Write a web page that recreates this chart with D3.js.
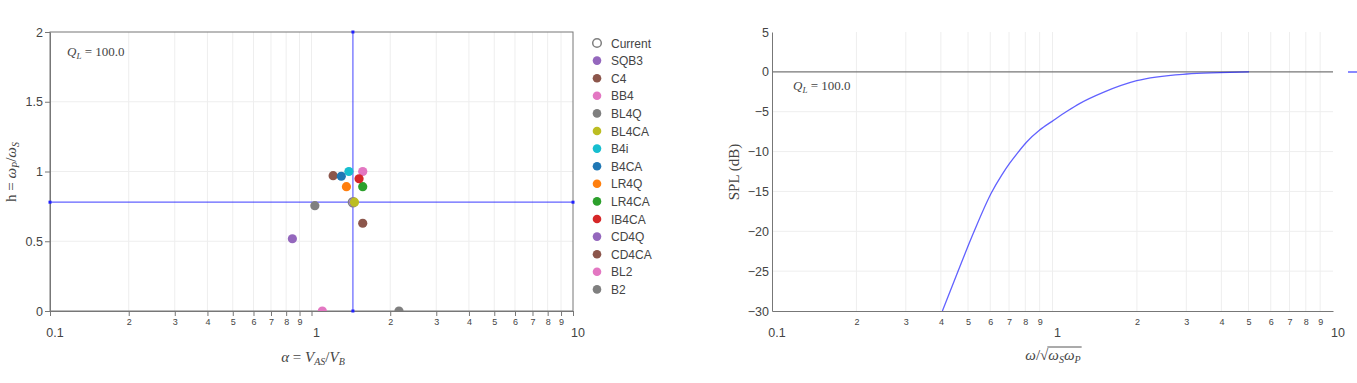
<!DOCTYPE html>
<html>
<head>
<meta charset="utf-8">
<script src="https://cdn.jsdelivr.net/npm/d3@7"></script>
<style>
  body { margin: 0; background: #fff; }
  text { font-family: "Liberation Sans", Arial, sans-serif; }
  .math { font-family: "Liberation Serif", "DejaVu Serif", serif; fill: #444; }
  .tick text { fill: #444; }
</style>
</head>
<body>
<div id="chart"></div>
<script>
// alignments (alpha = Vas/Vb, h = wP/wS)
var alignNames = ["SQB3", "C4", "BB4", "BL4Q", "BL4CA", "B4i", "B4CA", "LR4Q", "LR4CA", "IB4CA", "CD4Q", "CD4CA", "BL2", "B2"];
var alignAlpha = [1.45, 1.21, 1.57, 1.03, 1.46, 1.39, 1.30, 1.36, 1.57, 1.52, 0.845, 1.57, 1.10, 2.16];
var alignH     = [0.78, 0.97, 1.00, 0.755, 0.78, 1.00, 0.966, 0.891, 0.891, 0.948, 0.518, 0.629, 0, 0];

var currentAlpha = 1.44;
var currentH = 0.78;
var qlText = "100.0";

// response of the current alignment
var freqRatio = [0.405, 0.456, 0.522, 0.607, 0.660, 0.705, 0.750, 0.809, 0.900, 1.007, 1.126, 1.253, 1.517, 1.996, 3.01, 3.955, 5.02];
var splDb     = [-30, -25.4, -20.25, -15.1, -12.92, -11.43, -10.19, -8.8, -7.3, -6.1, -4.95, -3.95, -2.57, -1.11, -0.27, -0.1, 0];

// ticks
var majorTicks = [0.1, 1, 10];
var minorDigits = [2, 3, 4, 5, 6, 7, 8, 9];
var hTicks = [0, 0.5, 1, 1.5, 2];
var splTicks = [-30, -25, -20, -15, -10, -5, 0, 5];

var logTicks = [];
majorTicks.forEach(function(m, i) {
  logTicks.push(m);
  if (i < majorTicks.length - 1) minorDigits.forEach(function(d) { logTicks.push(m * d); });
});

var svgWidth = 1357, svgHeight = 383;
var lineBlue = "rgba(0,0,255,0.62)";
var axisGray = "#777";
var gridGray = "#eee";

function minorLabel(d) {
  if (majorTicks.indexOf(d) >= 0) return "";
  return String(Math.round(d / Math.pow(10, Math.floor(Math.log10(d) + 1e-9))));
}

var svg = d3.select("#chart").append("svg")
  .attr("width", svgWidth)
  .attr("height", svgHeight);

// ---------- left chart ----------
var xA = d3.scaleLog().domain([0.1, 10]).range([50, 573]);
var yH = d3.scaleLinear().domain([0, 2]).range([311, 32]);

var left = svg.append("g");

left.append("defs").append("clipPath").attr("id", "clipL")
  .append("rect").attr("x", 50).attr("y", 32).attr("width", 523).attr("height", 279);

// grid
left.selectAll(".vgrid").data(logTicks.slice(1, -1)).enter().append("line")
  .attr("x1", d => xA(d)).attr("x2", d => xA(d))
  .attr("y1", yH(0)).attr("y2", yH(2))
  .attr("stroke", gridGray);
left.selectAll(".hgrid").data(hTicks.slice(1, -1)).enter().append("line")
  .attr("x1", xA(0.1)).attr("x2", xA(10))
  .attr("y1", d => yH(d)).attr("y2", d => yH(d))
  .attr("stroke", gridGray);

// box
left.append("rect")
  .attr("x", xA(0.1)).attr("y", yH(2))
  .attr("width", xA(10) - xA(0.1)).attr("height", yH(0) - yH(2))
  .attr("fill", "none").attr("stroke", axisGray);

// axes
var xAxisL = left.append("g")
  .attr("transform", `translate(0, ${yH(0)})`)
  .call(d3.axisBottom(xA).tickValues(logTicks).tickSize(5).tickSizeOuter(0).tickPadding(3).tickFormat(minorLabel));
xAxisL.selectAll("text").attr("font-size", 9).attr("font-family", "Liberation Sans, Arial, sans-serif");
xAxisL.selectAll("line").attr("stroke", axisGray);
xAxisL.select(".domain").attr("stroke", axisGray);

left.selectAll(".majorL").data(majorTicks).enter().append("text")
  .attr("x", d => xA(d) + 5).attr("y", 337)
  .attr("text-anchor", "middle").attr("font-size", 12.5).attr("fill", "#444")
  .text(d => String(d));

var yAxisL = left.append("g")
  .attr("transform", `translate(${xA(0.1)}, 0)`)
  .call(d3.axisLeft(yH).tickValues(hTicks).tickSize(5).tickSizeOuter(0).tickPadding(2).tickFormat(d => String(d)));
yAxisL.selectAll("text").attr("font-size", 12.5).attr("font-family", "Liberation Sans, Arial, sans-serif");
yAxisL.selectAll("line").attr("stroke", axisGray);
yAxisL.select(".domain").attr("stroke", axisGray);

// crosshair through current alignment
var cross = left.append("g");
cross.append("line")
  .attr("x1", xA(0.1)).attr("x2", xA(10)).attr("y1", yH(currentH)).attr("y2", yH(currentH))
  .attr("stroke", lineBlue).attr("stroke-width", 1.2);
cross.append("line")
  .attr("x1", xA(currentAlpha)).attr("x2", xA(currentAlpha)).attr("y1", yH(0)).attr("y2", yH(2))
  .attr("stroke", lineBlue).attr("stroke-width", 1.2);
var ends = [[0.1, currentH], [10, currentH], [currentAlpha, 0], [currentAlpha, 2]];
cross.selectAll("rect").data(ends).enter().append("rect")
  .attr("x", d => xA(d[0]) - 1.5).attr("y", d => yH(d[1]) - 1.5)
  .attr("width", 3).attr("height", 3).attr("fill", "#2020ff");

// points
var pts = left.append("g").attr("clip-path", "url(#clipL)");
pts.append("circle")
  .attr("cx", xA(currentAlpha)).attr("cy", yH(currentH)).attr("r", 4.5)
  .attr("fill", "#fff").attr("stroke", "#7f7f7f").attr("stroke-width", 1.5);
pts.selectAll(".align").data(alignNames).enter().append("circle")
  .attr("cx", (d, i) => xA(alignAlpha[i]))
  .attr("cy", (d, i) => yH(alignH[i]))
  .attr("r", 4.6)
  .attr("fill", (d, i) => d3.schemeCategory10[(i + 4) % 10]);

// annotation
var qL = left.append("text").attr("class", "math").attr("x", 67).attr("y", 56).attr("font-size", 13);
qL.append("tspan").attr("font-style", "italic").text("Q");
qL.append("tspan").attr("font-style", "italic").attr("font-size", 9).attr("dy", 3).text("L");
qL.append("tspan").attr("dy", -3).text(" = " + qlText);

// axis titles
var xt = left.append("text").attr("class", "math").attr("x", 313).attr("y", 362)
  .attr("text-anchor", "middle").attr("font-size", 15);
xt.append("tspan").attr("font-style", "italic").text("α");
xt.append("tspan").text(" = ");
xt.append("tspan").attr("font-style", "italic").text("V");
xt.append("tspan").attr("font-style", "italic").attr("font-size", 10).attr("dy", 3).text("AS");
xt.append("tspan").attr("dy", -3).text("/");
xt.append("tspan").attr("font-style", "italic").text("V");
xt.append("tspan").attr("font-style", "italic").attr("font-size", 10).attr("dy", 3).text("B");

var yt = left.append("text").attr("class", "math")
  .attr("transform", "translate(16, 172) rotate(-90)")
  .attr("text-anchor", "middle").attr("font-size", 15);
yt.append("tspan").text("h = ");
yt.append("tspan").attr("font-style", "italic").text("ω");
yt.append("tspan").attr("font-style", "italic").attr("font-size", 10).attr("dy", 3).text("P");
yt.append("tspan").attr("dy", -3).text("/");
yt.append("tspan").attr("font-style", "italic").text("ω");
yt.append("tspan").attr("font-style", "italic").attr("font-size", 10).attr("dy", 3).text("S");

// legend
var legend = svg.append("g");
var legItems = ["Current"].concat(alignNames);
legItems.forEach(function(name, i) {
  var y = 43 + i * 17.6;
  var c = legend.append("circle").attr("cx", 597).attr("cy", y).attr("r", 4.3);
  if (i === 0) c.attr("fill", "#fff").attr("stroke", "#7f7f7f").attr("stroke-width", 1.5);
  else c.attr("fill", d3.schemeCategory10[(i - 1 + 4) % 10]);
  legend.append("text").attr("x", 611).attr("y", y + 4.5)
    .attr("font-size", 12).attr("fill", "#444").text(name);
});

// ---------- right chart ----------
var xW = d3.scaleLog().domain([0.1, 10]).range([772, 1333]);
var yS = d3.scaleLinear().domain([-30, 5]).range([311, 32]);

var right = svg.append("g");
right.append("defs").append("clipPath").attr("id", "clipR")
  .append("rect").attr("x", 772).attr("y", 32).attr("width", 561).attr("height", 279);

right.selectAll(".vgrid").data(logTicks.slice(1, -1)).enter().append("line")
  .attr("x1", d => xW(d)).attr("x2", d => xW(d))
  .attr("y1", yS(-30)).attr("y2", yS(5))
  .attr("stroke", gridGray);
right.selectAll(".hgrid").data(splTicks.filter(d => d !== 0 && d !== -30 && d !== 5)).enter().append("line")
  .attr("x1", xW(0.1)).attr("x2", xW(10))
  .attr("y1", d => yS(d)).attr("y2", d => yS(d))
  .attr("stroke", gridGray);

// zero line
right.append("line")
  .attr("x1", xW(0.1)).attr("x2", xW(10)).attr("y1", yS(0)).attr("y2", yS(0))
  .attr("stroke", axisGray).attr("stroke-width", 1.2);

var xAxisR = right.append("g")
  .attr("transform", `translate(0, ${yS(-30)})`)
  .call(d3.axisBottom(xW).tickValues(logTicks).tickSize(0).tickSizeOuter(0).tickPadding(8).tickFormat(minorLabel));
xAxisR.selectAll("text").attr("font-size", 9).attr("font-family", "Liberation Sans, Arial, sans-serif");
xAxisR.select(".domain").attr("stroke", axisGray);

right.selectAll(".majorR").data(majorTicks).enter().append("text")
  .attr("x", d => xW(d) + 5).attr("y", 337)
  .attr("text-anchor", "middle").attr("font-size", 12.5).attr("fill", "#444")
  .text(d => String(d));

var yAxisR = right.append("g")
  .attr("transform", `translate(${xW(0.1)}, 0)`)
  .call(d3.axisLeft(yS).tickValues(splTicks).tickSize(0).tickSizeOuter(0).tickPadding(3)
    .tickFormat(d => d < 0 ? "\u2212" + Math.abs(d) : String(d)));
yAxisR.selectAll("text").attr("font-size", 12.5).attr("font-family", "Liberation Sans, Arial, sans-serif");
yAxisR.select(".domain").attr("stroke", axisGray);

// response curve
var line = d3.line().x(d => xW(d[0])).y(d => yS(d[1])).curve(d3.curveMonotoneX);
right.append("path")
  .datum(freqRatio.map((f, i) => [f, splDb[i]]))
  .attr("clip-path", "url(#clipR)")
  .attr("d", line)
  .attr("fill", "none").attr("stroke", lineBlue).attr("stroke-width", 1.3);

var qR = right.append("text").attr("class", "math").attr("x", 793).attr("y", 90).attr("font-size", 13);
qR.append("tspan").attr("font-style", "italic").text("Q");
qR.append("tspan").attr("font-style", "italic").attr("font-size", 9).attr("dy", 3).text("L");
qR.append("tspan").attr("dy", -3).text(" = " + qlText);

right.append("text").attr("class", "math")
  .attr("transform", "translate(739, 172) rotate(-90)")
  .attr("text-anchor", "middle").attr("font-size", 15)
  .text("SPL (dB)");

// x title: w / sqrt(wS wP)
var xr1 = right.append("text").attr("class", "math").attr("y", 360).attr("font-size", 15);
xr1.append("tspan").attr("font-style", "italic").text("ω");
xr1.append("tspan").text("/\u221a");
var xr2 = right.append("text").attr("class", "math").attr("y", 360).attr("font-size", 15);
xr2.append("tspan").attr("font-style", "italic").text("ω");
xr2.append("tspan").attr("font-style", "italic").attr("font-size", 10).attr("dy", 3).text("S");
xr2.append("tspan").attr("font-style", "italic").attr("dy", -3).text("ω");
xr2.append("tspan").attr("font-style", "italic").attr("font-size", 10).attr("dy", 3).text("P");
var w1 = xr1.node().getComputedTextLength();
var w2 = xr2.node().getComputedTextLength();
var x0 = 1053 - (w1 + w2) / 2;
xr1.attr("x", x0);
xr2.attr("x", x0 + w1);
right.append("line")
  .attr("x1", x0 + w1 - 1).attr("x2", x0 + w1 + w2 + 1)
  .attr("y1", 347).attr("y2", 347)
  .attr("stroke", "#444").attr("stroke-width", 0.9);

// cut-off legend entry
svg.append("line").attr("x1", 1348).attr("x2", 1357).attr("y1", 72).attr("y2", 72)
  .attr("stroke", lineBlue).attr("stroke-width", 1.5);
</script>
</body>
</html>
